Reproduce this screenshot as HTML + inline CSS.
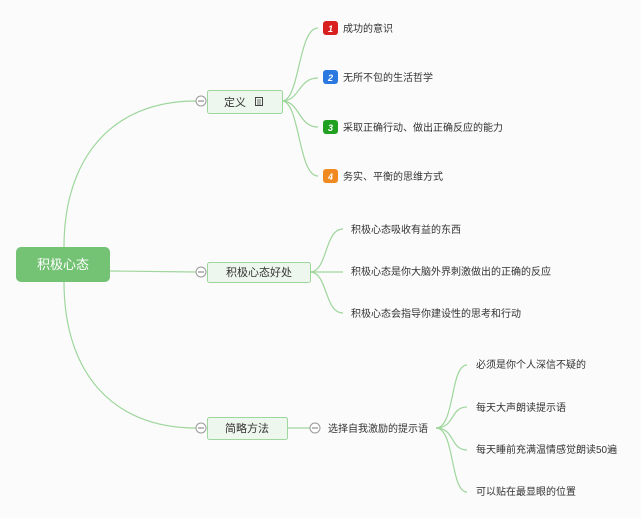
<!DOCTYPE html>
<html><head><meta charset="utf-8"><style>
html,body{margin:0;padding:0;background:#fbfbfb;}
svg{display:block}
text{font-family:"Liberation Sans","Noto Sans CJK SC",sans-serif;fill:#333;}
</style></head><body>
<svg width="641" height="518" viewBox="0 0 641 518" xmlns="http://www.w3.org/2000/svg">
<rect width="641" height="518" fill="#fbfbfb"/>
<g fill="none" stroke="#9fd69c" stroke-width="1.2">
<!-- root to main -->
<path d="M64,247 C64,160 110,101 196,101"/>
<path d="M110,271 L196,272"/>
<path d="M64,282 C64,370 110,428 196,428"/>
<!-- def children -->
<path d="M282,101 C300,101 298,28 318,28"/>
<path d="M282,101 C300,101 298,78 318,78"/>
<path d="M282,101 C300,101 298,127 318,127"/>
<path d="M282,101 C300,101 298,176 318,176"/>
<!-- benefits -->
<path d="M310,272 C328,272 324,229 343,229"/>
<path d="M310,272 L343,272"/>
<path d="M310,272 C328,272 324,313 343,313"/>
<!-- method -->
<path d="M287,428 L310,428"/>
<path d="M436,428 C455,428 450,365 467,365"/>
<path d="M436,428 C455,428 450,407 467,407"/>
<path d="M436,428 C455,428 450,450 467,450"/>
<path d="M436,428 C455,428 450,492 467,492"/>
</g>
<!-- root -->
<rect x="16" y="247" width="94" height="35" rx="5" fill="#74c274"/>
<text x="63" y="269" font-size="13" text-anchor="middle" style="fill:#fff">积极心态</text>
<!-- collapse circles -->
<g fill="#fff" stroke="#999" stroke-width="1">
<circle cx="201" cy="101" r="5"/><circle cx="201" cy="272" r="5"/><circle cx="201" cy="428" r="5"/><circle cx="315" cy="428" r="5"/>
</g>
<g stroke="#777" stroke-width="1"><path d="M198,101h6M198,272h6M198,428h6M312,428h6"/></g>
<!-- main boxes -->
<g fill="#eef7ee" stroke="#9fd69c" stroke-width="1">
<rect x="207.5" y="90.5" width="75" height="23" rx="2"/>
<rect x="207.5" y="262.5" width="103" height="20" rx="2"/>
<rect x="207.5" y="417.5" width="80" height="22" rx="2"/>
</g>
<text x="224" y="106" font-size="11">定义</text>
<rect x="255.5" y="97.5" width="7" height="8" fill="none" stroke="#444"/>
<path d="M257,100h4M257,102h4M257,104h4" stroke="#444" stroke-width="0.8"/>
<text x="259" y="276" font-size="11" text-anchor="middle">积极心态好处</text>
<text x="247" y="432" font-size="11" text-anchor="middle">简略方法</text>
<!-- def children icons -->
<g font-size="9" font-weight="bold" font-style="italic">
<rect x="323" y="21" width="15" height="14" rx="3" fill="#d82020"/><text x="330.5" y="32" text-anchor="middle" style="fill:#fff">1</text>
<rect x="323" y="70" width="15" height="14" rx="3" fill="#2a78e0"/><text x="330.5" y="81" text-anchor="middle" style="fill:#fff">2</text>
<rect x="323" y="120" width="15" height="14" rx="3" fill="#22a022"/><text x="330.5" y="131" text-anchor="middle" style="fill:#fff">3</text>
<rect x="323" y="169" width="15" height="14" rx="3" fill="#f08a20"/><text x="330.5" y="180" text-anchor="middle" style="fill:#fff">4</text>
</g>
<g font-size="10">
<text x="343" y="32">成功的意识</text>
<text x="343" y="81">无所不包的生活哲学</text>
<text x="343" y="131">采取正确行动、做出正确反应的能力</text>
<text x="343" y="180">务实、平衡的思维方式</text>
<text x="351" y="233">积极心态吸收有益的东西</text>
<text x="351" y="275">积极心态是你大脑外界刺激做出的正确的反应</text>
<text x="351" y="317">积极心态会指导你建设性的思考和行动</text>
<text x="328" y="432">选择自我激励的提示语</text>
<text x="476" y="368">必须是你个人深信不疑的</text>
<text x="476" y="411">每天大声朗读提示语</text>
<text x="476" y="453">每天睡前充满温情感觉朗读50遍</text>
<text x="476" y="495">可以贴在最显眼的位置</text>
</g>
</svg>
</body></html>
